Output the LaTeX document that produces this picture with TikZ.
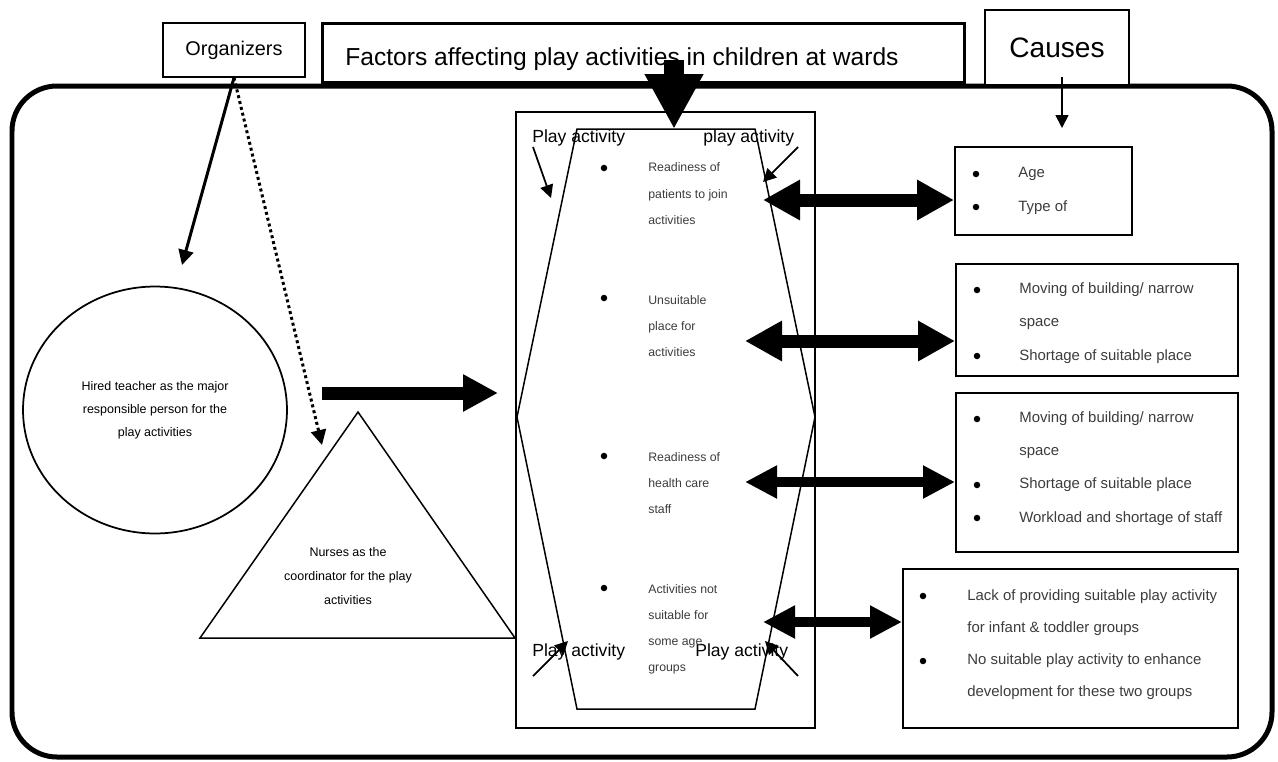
\documentclass[tikz,border=0pt]{standalone}
\usepackage{fontspec}
\setmainfont{Liberation Sans}
\usetikzlibrary{shapes,arrows.meta,positioning}
\definecolor{itemgray}{HTML}{3C3C3C}

\begin{document}
\begin{tikzpicture}[x=0.02cm, y=-0.02cm,
    headbox/.style={draw, line width=0.03cm, rectangle, fill=white},
    causebox/.style={draw, line width=0.04cm, rectangle},
    bulletdot/.style={circle, fill=black, inner sep=0pt, minimum size=0.13cm},
    hexitem/.style={anchor=base west, inner sep=0pt, align=left, text=itemgray, font=\fontsize{7}{14.8}\selectfont},
    causeitem/.style={anchor=base west, inner sep=0pt, align=left, text=itemgray, font=\fontsize{8.5}{18.8}\selectfont},
    playlabel/.style={anchor=base west, inner sep=0pt, font=\fontsize{10}{12}\selectfont},
    thinarrow/.style={line width=0.035cm, -{Triangle[length=0.26cm, width=0.26cm]}},
    dblbig/.style={line width=0.26cm, {Triangle[length=0.74cm, width=0.76cm]}-{Triangle[length=0.74cm, width=0.76cm]}},
    dblmid/.style={line width=0.21cm, {Triangle[length=0.64cm, width=0.62cm]}-{Triangle[length=0.64cm, width=0.62cm]}}]
    \useasboundingbox (0,0) rectangle (1278,761);

    % ward frame
    \draw[line width=0.1cm, rounded corners=0.9cm] (12,86) rectangle (1272,757);

    % headings
    \node (organizers) [headbox, minimum width=2.84cm, minimum height=1.08cm, font=\fontsize{11.3}{13}\selectfont] at (234,50) {Organizers};
    \node (title) [headbox, line width=0.06cm, minimum width=12.86cm, minimum height=1.2cm] at (643.5,53) {};
    \node (titleText) [anchor=base west, inner sep=0pt, font=\fontsize{14}{16}\selectfont] at (345,65) {Factors affecting play activities in children at wards};
    \node (causes) [headbox, minimum width=2.88cm, minimum height=1.5cm, font=\fontsize{16}{18}\selectfont] at (1057,47.5) {Causes};

    % organizers
    \node (teacher) [draw, ellipse, line width=0.035cm, minimum width=5.28cm, minimum height=4.94cm, align=center, font=\fontsize{7.1}{13}\selectfont] at (155,410) {Hired teacher as the major\\responsible person for the\\play activities};
    \coordinate (triTop) at (358,412);
    \coordinate (triRight) at (515,638);
    \coordinate (triLeft) at (200,638);
    \draw[line width=0.03cm] (triTop) -- (triRight) -- (triLeft) -- cycle;
    \node (nurses) [align=center, font=\fontsize{7.1}{13.4}\selectfont] at (348,576) {Nurses as the\\coordinator for the play\\activities};

    % play activity frame and hexagon
    \node (playFrame) [draw, line width=0.04cm, minimum width=5.98cm, minimum height=12.32cm] at (665.5,420) {};
    \coordinate (hexA) at (577,129);
    \coordinate (hexB) at (755,129);
    \coordinate (hexC) at (815,417);
    \coordinate (hexD) at (755,709);
    \coordinate (hexE) at (577,709);
    \coordinate (hexF) at (517,417);
    \draw[line width=0.03cm] (hexA) -- (hexB) -- (hexC) -- (hexD) -- (hexE) -- (hexF) -- cycle;

    \node (playTL) [playlabel] at (532,142) {Play activity};
    \node (playTR) [playlabel] at (703,142) {play activity};
    \node (playBL) [playlabel] at (532,656) {Play activity};
    \node (playBR) [playlabel] at (695,656) {Play activity};

    % base = last line, so y is that of the last line
    \node (factor1) [hexitem] at (648,224) {Readiness of\\patients to join\\activities};
    \node (factor2) [hexitem] at (648,356) {Unsuitable\\place for\\activities};
    \node (factor3) [hexitem] at (648,513) {Readiness of\\health care\\staff};
    \node (factor4) [hexitem] at (648,671) {Activities not\\suitable for\\some age\\groups};

    % causes
    \node (ageBox) [causebox, minimum width=3.54cm, minimum height=1.76cm] at (1043.5,191) {};
    \node (placeBox) [causebox, minimum width=5.64cm, minimum height=2.24cm] at (1097,320) {};
    \node (staffBox) [causebox, minimum width=5.64cm, minimum height=3.18cm] at (1097,472.5) {};
    \node (groupBox) [causebox, minimum width=6.7cm, minimum height=3.18cm] at (1070.5,648.5) {};

    \node (cause1) [causeitem] at (1018,211) {Age\\Type of};
    \node (cause2) [causeitem] at (1019,360) {Moving of building/ narrow\\space\\Shortage of suitable place};
    \node (cause3) [causeitem] at (1019,522) {Moving of building/ narrow\\space\\Shortage of suitable place\\Workload and shortage of staff};
    \node (cause4) [causeitem, font=\fontsize{8.5}{18.2}\selectfont] at (967,696) {Lack of providing suitable play activity\\for infant \& toddler groups\\No suitable play activity to enhance\\development for these two groups};

    \foreach \bx/\by [count=\k] in {604/168, 604/298, 604/456, 604/588, 976/174, 976/207, 977/290, 977/356, 977/419, 977/485, 977/518, 923/596, 923/661}
        \node (dot\k) [bulletdot] at (\bx,\by) {};

    % arrows
    \coordinate (toTeacher) at (182,265);
    \coordinate (toNurses) at (322,445);
    \draw[line width=0.06cm, -{Triangle[length=0.3cm, width=0.3cm]}] (organizers.south) -- (toTeacher);
    \draw[line width=0.06cm, dash pattern=on 0.06cm off 0.06cm, -{Triangle[length=0.3cm, width=0.3cm]}] (organizers.south) -- (toNurses);

    \coordinate (downFrom) at (674,60);
    \coordinate (downTo) at (674,129);
    \draw[line width=0.4cm, -{Triangle[length=1.1cm, width=1.1cm]}] (downFrom) -- (downTo);

    \coordinate (causeFrom) at (1062,77);
    \coordinate (causeTo) at (1062,128);
    \draw[thinarrow] (causeFrom) -- (causeTo);

    \coordinate (teacherOut) at (322,393);
    \coordinate (frameIn) at (498,393);
    \draw[line width=0.26cm, -{Triangle[length=0.7cm, width=0.7cm]}] (teacherOut) -- (frameIn);

    \coordinate (tlFrom) at (533,147);
    \coordinate (tlTo) at (551,198);
    \coordinate (trFrom) at (798,147);
    \coordinate (trTo) at (763,182);
    \coordinate (blFrom) at (533,676);
    \coordinate (blTo) at (568,641);
    \coordinate (brFrom) at (798,676);
    \coordinate (brTo) at (765,641);
    \draw[thinarrow] (tlFrom) -- (tlTo);
    \draw[thinarrow] (trFrom) -- (trTo);
    \draw[thinarrow] (blFrom) -- (blTo);
    \draw[thinarrow] (brFrom) -- (brTo);

    \coordinate (link1) at (763,200);
    \coordinate (link2) at (745,341);
    \coordinate (link3) at (745,482);
    \coordinate (link4) at (763,622);
    \draw[dblbig] (link1) -- (link1 -| ageBox.west);
    \draw[dblbig] (link2) -- (link2 -| placeBox.west);
    \draw[dblmid] (link3) -- (link3 -| staffBox.west);
    \draw[dblmid] (link4) -- (link4 -| groupBox.west);
\end{tikzpicture}
\end{document}
